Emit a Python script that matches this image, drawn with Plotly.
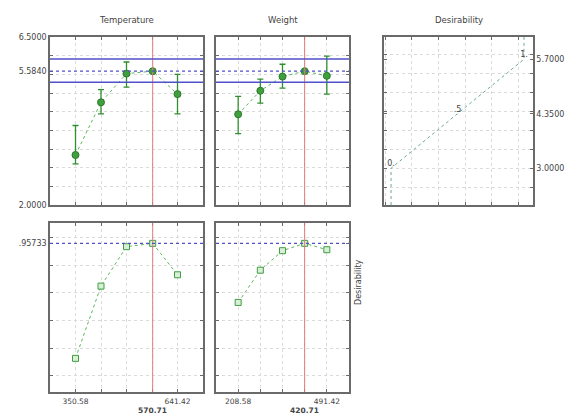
import plotly.graph_objects as go

W, H = 571, 415

# ---------------- data ----------------
temp_x = [350.58, 423.29, 496.00, 570.71, 641.42]
temp_resp = [3.34, 4.75, 5.52, 5.584, 4.97]
temp_hi = [4.13, 5.09, 5.83, 5.584, 5.50]
temp_lo = [3.10, 4.44, 5.16, 5.584, 4.44]
temp_des = [0.126, 0.648, 0.933, 0.957, 0.730]

weight_x = [208.58, 279.29, 350.00, 420.71, 491.42]
weight_resp = [4.43, 5.06, 5.44, 5.584, 5.46]
weight_hi = [4.91, 5.37, 5.77, 5.584, 5.99]
weight_lo = [3.91, 4.73, 5.13, 5.584, 4.97]
weight_des = [0.530, 0.763, 0.904, 0.957, 0.911]

temp_current = 570.71
weight_current = 420.71
resp_current = 5.584
des_current = 0.95733
ci_upper = 5.911
ci_lower = 5.287

des_fn_x = [0.0, 0.5, 1.0]
des_fn_y = [3.0, 4.35, 5.7]
des_fn_labels = ["0.", ".5", "1."]

titles = ["Temperature", "Weight", "Desirability"]

# ---------------- layout helpers ----------------
def dx(a, b):
    return [a / W, b / W]

def dy(top, bottom):
    return [1 - bottom / H, 1 - top / H]

FONT = "DejaVu Sans"
TXT = "#444444"
FRAME = "#6a6a6a"
GRID = "#dadada"
GREEN = "#3f9f3f"
GREEN_LINE = "#5cb85c"
BLUE = "#5050c8"
RED = "#e07a7a"

fig = go.Figure()

def axis_common(**kw):
    d = dict(showline=True, linecolor=FRAME, linewidth=1.5, mirror="allticks",
             ticks="inside", ticklen=3, tickcolor=FRAME, showgrid=False,
             zeroline=False, automargin=False,
             tickfont=dict(family=FONT, size=8, color=TXT))
    d.update(kw)
    return d

def minor(tick0, dtick):
    return dict(tick0=tick0, dtick=dtick, showgrid=True, gridcolor=GRID,
                griddash="dot", gridwidth=1, ticks="inside", ticklen=3,
                tickcolor=FRAME)

XFONT = dict(family=FONT, size=7.5, color=TXT)

# panel boxes (pixels)
boxA = (50, 203, 37, 205)
boxB = (216, 349, 37, 205)
boxC = (384, 533, 37, 205)
boxD = (50, 203, 223, 392)
boxE = (216, 349, 223, 392)

temp_range = [277.87, 714.13]
weight_range = [137.87, 562.13]
top_range = [2.0, 6.5]
bot_range = [-0.117, 1.104]

layout = dict(width=W, height=H, margin=dict(l=0, r=0, t=0, b=0),
              paper_bgcolor="white", plot_bgcolor="white", showlegend=False)

# A: temperature response
layout["xaxis"] = axis_common(domain=dx(boxA[0], boxA[1]), range=temp_range,
                              tickvals=[], minor=minor(temp_x[0], temp_x[1] - temp_x[0]),
                              anchor="y")
layout["yaxis"] = axis_common(domain=dy(boxA[2], boxA[3]), range=top_range,
                              tickvals=[2.0, resp_current, 6.5],
                              ticktext=["2.0000", "5.5840", "6.5000"],
                              minor=minor(2.0, 0.5), anchor="x")
# B: weight response
layout["xaxis2"] = axis_common(domain=dx(boxB[0], boxB[1]), range=weight_range,
                               tickvals=[], minor=minor(weight_x[0], weight_x[1] - weight_x[0]),
                               anchor="y2")
layout["yaxis2"] = axis_common(domain=dy(boxB[2], boxB[3]), range=top_range,
                               tickvals=[2.0, resp_current, 6.5], showticklabels=False,
                               minor=minor(2.0, 0.5), anchor="x2")
# C: desirability function
layout["xaxis3"] = axis_common(domain=dx(boxC[0], boxC[1]), range=[-0.053, 1.068],
                               tickvals=[], minor=minor(0.157, 0.2), anchor="y3")
layout["yaxis3"] = axis_common(domain=dy(boxC[2], boxC[3]), range=[2.09, 6.25],
                               side="right", tickvals=des_fn_y,
                               ticktext=["3.0000", "4.3500", "5.7000"],
                               minor=minor(3.0, 0.47), anchor="x3")
# D: temperature desirability
layout["xaxis4"] = axis_common(domain=dx(boxD[0], boxD[1]), range=temp_range,
                               tickvals=[temp_x[0], temp_x[-1]],
                               ticktext=["350.58", "641.42"], ticklabelstandoff=1,
                               tickfont=XFONT,
                               minor=minor(temp_x[0], temp_x[1] - temp_x[0]), anchor="y4")
layout["yaxis4"] = axis_common(domain=dy(boxD[2], boxD[3]), range=bot_range,
                               tickvals=[des_current], ticktext=[".95733"],
                               minor=minor(0.0, 0.2), anchor="x4")
# E: weight desirability
layout["xaxis5"] = axis_common(domain=dx(boxE[0], boxE[1]), range=weight_range,
                               tickvals=[weight_x[0], weight_x[-1]],
                               ticktext=["208.58", "491.42"], ticklabelstandoff=1,
                               tickfont=XFONT,
                               minor=minor(weight_x[0], weight_x[1] - weight_x[0]), anchor="y5")
layout["yaxis5"] = axis_common(domain=dy(boxE[2], boxE[3]), range=bot_range,
                               tickvals=[des_current], showticklabels=False,
                               minor=minor(0.0, 0.2), anchor="x5")

fig.update_layout(**layout)

shapes = []
# red current-value lines
for xr, yr, xv in [("x", "y", temp_current), ("x2", "y2", weight_current),
                   ("x4", "y4", temp_current), ("x5", "y5", weight_current)]:
    shapes.append(dict(type="line", xref=xr, yref=yr + " domain", x0=xv, x1=xv,
                       y0=0, y1=1, line=dict(color=RED, width=1)))
# blue response lines
for xr, yr in [("x", "y"), ("x2", "y2")]:
    for yv in [ci_upper, ci_lower]:
        shapes.append(dict(type="line", xref=xr + " domain", yref=yr, x0=0, x1=1,
                           y0=yv, y1=yv, line=dict(color=BLUE, width=1.5)))
    shapes.append(dict(type="line", xref=xr + " domain", yref=yr, x0=0, x1=1,
                       y0=resp_current, y1=resp_current,
                       line=dict(color=BLUE, width=1.3, dash="dot")))
for xr, yr in [("x4", "y4"), ("x5", "y5")]:
    shapes.append(dict(type="line", xref=xr + " domain", yref=yr, x0=0, x1=1,
                       y0=des_current, y1=des_current,
                       line=dict(color=BLUE, width=1.3, dash="dot")))
fig.update_layout(shapes=shapes)

# response profiles with error bars
for xs, ys, hi, lo, xa, ya in [(temp_x, temp_resp, temp_hi, temp_lo, "x", "y"),
                               (weight_x, weight_resp, weight_hi, weight_lo, "x2", "y2")]:
    fig.add_trace(go.Scatter(
        x=xs, y=ys, xaxis=xa, yaxis=ya, mode="lines+markers",
        line=dict(color=GREEN_LINE, width=1, dash="dot"),
        marker=dict(symbol="circle", size=7, color=GREEN, line=dict(color="#2a7a2a", width=1)),
        error_y=dict(type="data", symmetric=False,
                     array=[h - y for h, y in zip(hi, ys)],
                     arrayminus=[y - l for l, y in zip(lo, ys)],
                     color="#2f8f2f", thickness=1.3, width=3)))

# desirability profiles
for xs, ds, xa, ya in [(temp_x, temp_des, "x4", "y4"), (weight_x, weight_des, "x5", "y5")]:
    fig.add_trace(go.Scatter(
        x=xs, y=ds, xaxis=xa, yaxis=ya, mode="lines+markers",
        line=dict(color=GREEN_LINE, width=1, dash="dot"),
        marker=dict(symbol="square", size=6, color="#d8eed8",
                    line=dict(color=GREEN, width=1))))

# desirability function
fig.add_trace(go.Scatter(
    x=[des_fn_x[0]] + des_fn_x + [des_fn_x[-1]],
    y=[2.09] + des_fn_y + [6.25],
    xaxis="x3", yaxis="y3", mode="lines",
    line=dict(color="#6aaa90", width=1, dash="dot")))
fig.add_trace(go.Scatter(
    x=des_fn_x, y=des_fn_y, xaxis="x3", yaxis="y3", mode="text",
    text=des_fn_labels, textposition="top center",
    textfont=dict(family=FONT, size=8, color=TXT)))

ann = []
for t, (a, b, _, _) in zip(titles, [boxA, boxB, boxC]):
    ann.append(dict(text=t, xref="paper", yref="paper", x=(a + b) / 2 / W,
                    y=1 - 20 / H, showarrow=False, xanchor="center", yanchor="middle",
                    font=dict(family=FONT, size=8.5, color=TXT)))
for xv, xa in [(temp_current, "x4"), (weight_current, "x5")]:
    ann.append(dict(text="<b>%.2f</b>" % xv, xref=xa, yref="paper", x=xv,
                    y=1 - 410 / H, showarrow=False, xanchor="center", yanchor="middle",
                    font=dict(family=FONT, size=7.5, color=TXT)))
ann.append(dict(text="Desirability", xref="paper", yref="paper", x=358 / W,
                y=1 - 307 / H, showarrow=False, textangle=-90,
                font=dict(family=FONT, size=8, color=TXT)))
fig.update_layout(annotations=ann)

fig.write_html("out.html", config={"displayModeBar": False},
               post_script="document.body.style.margin='0';document.body.style.overflow='hidden';")
